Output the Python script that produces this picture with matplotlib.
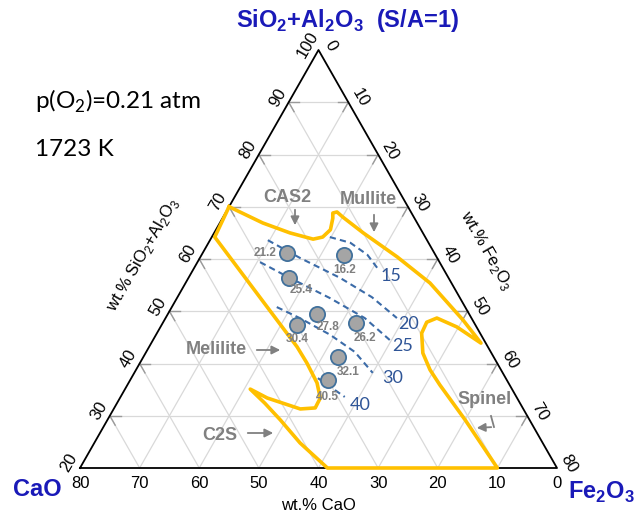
import matplotlib.pyplot as plt
import numpy as np

plt.rcParams['font.family'] = 'Liberation Sans'

# sample compositions, wt.% (CaO is the balance)
pt_sa = [61.1, 60.8, 56.4, 49.5, 47.4, 47.8, 41.2, 36.8]
pt_fe = [14.2, 23.9, 16.9, 25.0, 22.7, 32.4, 32.7, 33.2]
pt_val = ['21.2', '16.2', '25.4', '27.8', '30.4', '26.2', '32.1', '40.5']

# liquid region outline (SiO2+Al2O3, Fe2O3)
liq_sa = [70, 66.9, 65.0, 63.8, 64.2, 65.6, 67.8, 68.8, 69.0, 68.0, 65.0, 60.4,
          55.4, 48.3, 43.9, 47.0, 48.7, 47.9, 45.8, 42.0, 38.8, 35.9, 29.2, 20,
          20, 24.8, 29.2, 32.4, 35.1, 33.4, 31.3, 31.5, 33.4, 36.3, 40.1, 43.2,
          52.7, 64.2, 70]
liq_fe = [0, 7.2, 12.7, 17.2, 18.6, 19.2, 18.5, 18.0, 18.6, 20.1, 25.0, 33.0,
          41.0, 50.1, 55.3, 49.7, 45.5, 44.2, 44.4, 46.5, 49.3, 52.4, 60.0, 70,
          41.5, 34.5, 29.0, 24.8, 21.0, 24.7, 31.3, 33.7, 33.6, 31.6, 28.0, 24.8,
          13.8, 0.5, 0]

# iso-lines
iso_val = ['15', '20', '25', '30', '40']
iso_sa = [[64.2, 63.1, 60.8, 58.3],
          [63.6, 60.2, 56.4, 52.7, 48.7],
          [59.4, 56.7, 52.5, 48.7, 44.5],
          [50.8, 48.7, 45.5, 42.2, 38.2],
          [37.2, 33.6]]
iso_fe = [[19.8, 23.8, 27.8, 30.7],
          [9.7, 16.8, 25.4, 32.6, 38.8],
          [10.5, 16.3, 25.7, 33.4, 39.7],
          [17.6, 22.5, 29.2, 35.0, 40.0],
          [31.3, 37.6]]

ticks = list(range(20, 101, 10))

# triangle placement in figure pixels
X0, Y0, W, H = 80, 468, 477, 418


def tern(sa, fe):
    s = (np.asarray(sa, float) - 20) / 80.
    f = np.asarray(fe, float) / 80.
    return X0 + W * (f + s / 2), Y0 - H * s


fig = plt.figure(figsize=(6.39, 5.18), dpi=100)
ax = fig.add_axes([0, 0, 1, 1])
ax.set_xlim(0, 639)
ax.set_ylim(518, 0)
ax.axis('off')

# grid
gc = '#d9d9d9'
for v in range(30, 100, 10):
    ax.plot(*tern([v, v], [0, 100 - v]), color=gc, lw=0.9, zorder=1)
for c in range(10, 80, 10):
    ax.plot(*tern([100 - c, 20], [0, 80 - c]), color=gc, lw=0.9, zorder=1)
for f in range(10, 80, 10):
    ax.plot(*tern([100 - f, 20], [f, f]), color=gc, lw=0.9, zorder=1)

# small ticks at the side edges
L = 1.8
tc = '#9a9a9a'
for v in range(30, 100, 10):
    ax.plot(*tern([v, v], [0, L]), color=tc, lw=1, zorder=2)
    ax.plot(*tern([v, v - L], [0, L]), color=tc, lw=1, zorder=2)
for f in range(10, 80, 10):
    ax.plot(*tern([100 - f, 100 - f], [f, f - L]), color=tc, lw=1, zorder=2)
    ax.plot(*tern([100 - f, 100 - f - L], [f, f]), color=tc, lw=1, zorder=2)

# frame
ax.plot(*tern([20, 100, 20, 20], [0, 0, 80, 0]), color='black', lw=1.3, zorder=3)

# tick labels
for t in ticks:
    x, y = tern(t, 0)
    ax.text(x - 11, y - 5, str(t), rotation=60, ha='center', va='center', fontsize=12)
    x, y = tern(120 - t, t - 20)
    ax.text(x + 12, y - 4, str(t - 20), rotation=-60, ha='center', va='center', fontsize=12)
    x, y = tern(20, 100 - t)
    ax.text(x, y + 15, str(t - 20), ha='center', va='center', fontsize=12)

ax.text(318, 505, 'wt.% CaO', ha='center', va='center', fontsize=12)
ax.text(143, 255, r'wt.% SiO$_\mathregular{2}$+Al$_\mathregular{2}$O$_\mathregular{3}$',
        rotation=60, ha='center', va='center', fontsize=12)
ax.text(486, 250, r'wt.% Fe$_\mathregular{2}$O$_\mathregular{3}$',
        rotation=-60, ha='center', va='center', fontsize=12)

blue = '#1a1ab8'
ax.text(347, 20, r'SiO$_\mathregular{2}$+Al$_\mathregular{2}$O$_\mathregular{3}$  (S/A=1)',
        ha='center', va='center', fontsize=17, fontweight='bold', color=blue)
ax.text(37, 490, 'CaO', ha='center', va='center', fontsize=17, fontweight='bold', color=blue)
ax.text(601, 492, r'Fe$_\mathregular{2}$O$_\mathregular{3}$', ha='center', va='center',
        fontsize=17, fontweight='bold', color=blue)

ax.text(35, 101, r'p(O$_\mathregular{2}$)=0.21 atm', ha='left', va='center',
        fontsize=17.5, family='Lato')
ax.text(35, 149, '1723 K', ha='left', va='center', fontsize=17.5, family='Lato')

# liquid region
ax.plot(*tern(liq_sa, liq_fe), color='#ffc000', lw=2.6, solid_joinstyle='round', zorder=4)

# iso-lines
ic = '#3b6ba8'
lab_xy = [(391, 276), (409, 324), (403, 346), (393, 378), (360, 405)]
for sa, fe, v, (lx, ly) in zip(iso_sa, iso_fe, iso_val, lab_xy):
    ax.plot(*tern(sa, fe), color=ic, lw=1.5, ls=(0, (3, 2)), zorder=5)
    ax.text(lx, ly, v, ha='center', va='center', fontsize=13, color='#2f5597', family='Lato')

# samples
px, py = tern(pt_sa, pt_fe)
ax.scatter(px, py, s=120, c='#a5a5a5', edgecolors='#41719c', linewidths=1.3, zorder=6)
off = [(-22, 0), (0, 15), (12, 12), (11, 13), (0, 14), (9, 15), (10, 15), (-1, 17)]
for x, y, v, (dx, dy) in zip(px, py, pt_val, off):
    ax.text(x + dx, y + dy, v, ha='center', va='center', fontsize=8.5,
            fontweight='bold', color='#7f7f7f', zorder=7)

# phase labels
gray = '#808080'
arw = dict(arrowstyle='-|>,head_length=0.5,head_width=0.25', color=gray, lw=1.3)
for name, (tx, ty), a, b in [('CAS2', (287, 197), (295, 207), (295, 228)),
                             ('Mullite', (368, 199), (374, 212), (374, 235)),
                             ('Melilite', (216, 349), (254, 350), (283, 350)),
                             ('C2S', (220, 435), (245, 433), (276, 433))]:
    ax.text(tx, ty, name, ha='center', va='center', fontsize=13, fontweight='bold', color=gray)
    ax.annotate('', xy=b, xytext=a, arrowprops=arw)
ax.text(485, 400, 'Spinel', ha='center', va='center', fontsize=13, fontweight='bold', color=gray)
ax.plot([491, 494], [416, 427], color=gray, lw=1.3)
ax.annotate('', xy=(474, 428), xytext=(494, 427), arrowprops=arw)

fig.savefig('out.png', dpi=100)
